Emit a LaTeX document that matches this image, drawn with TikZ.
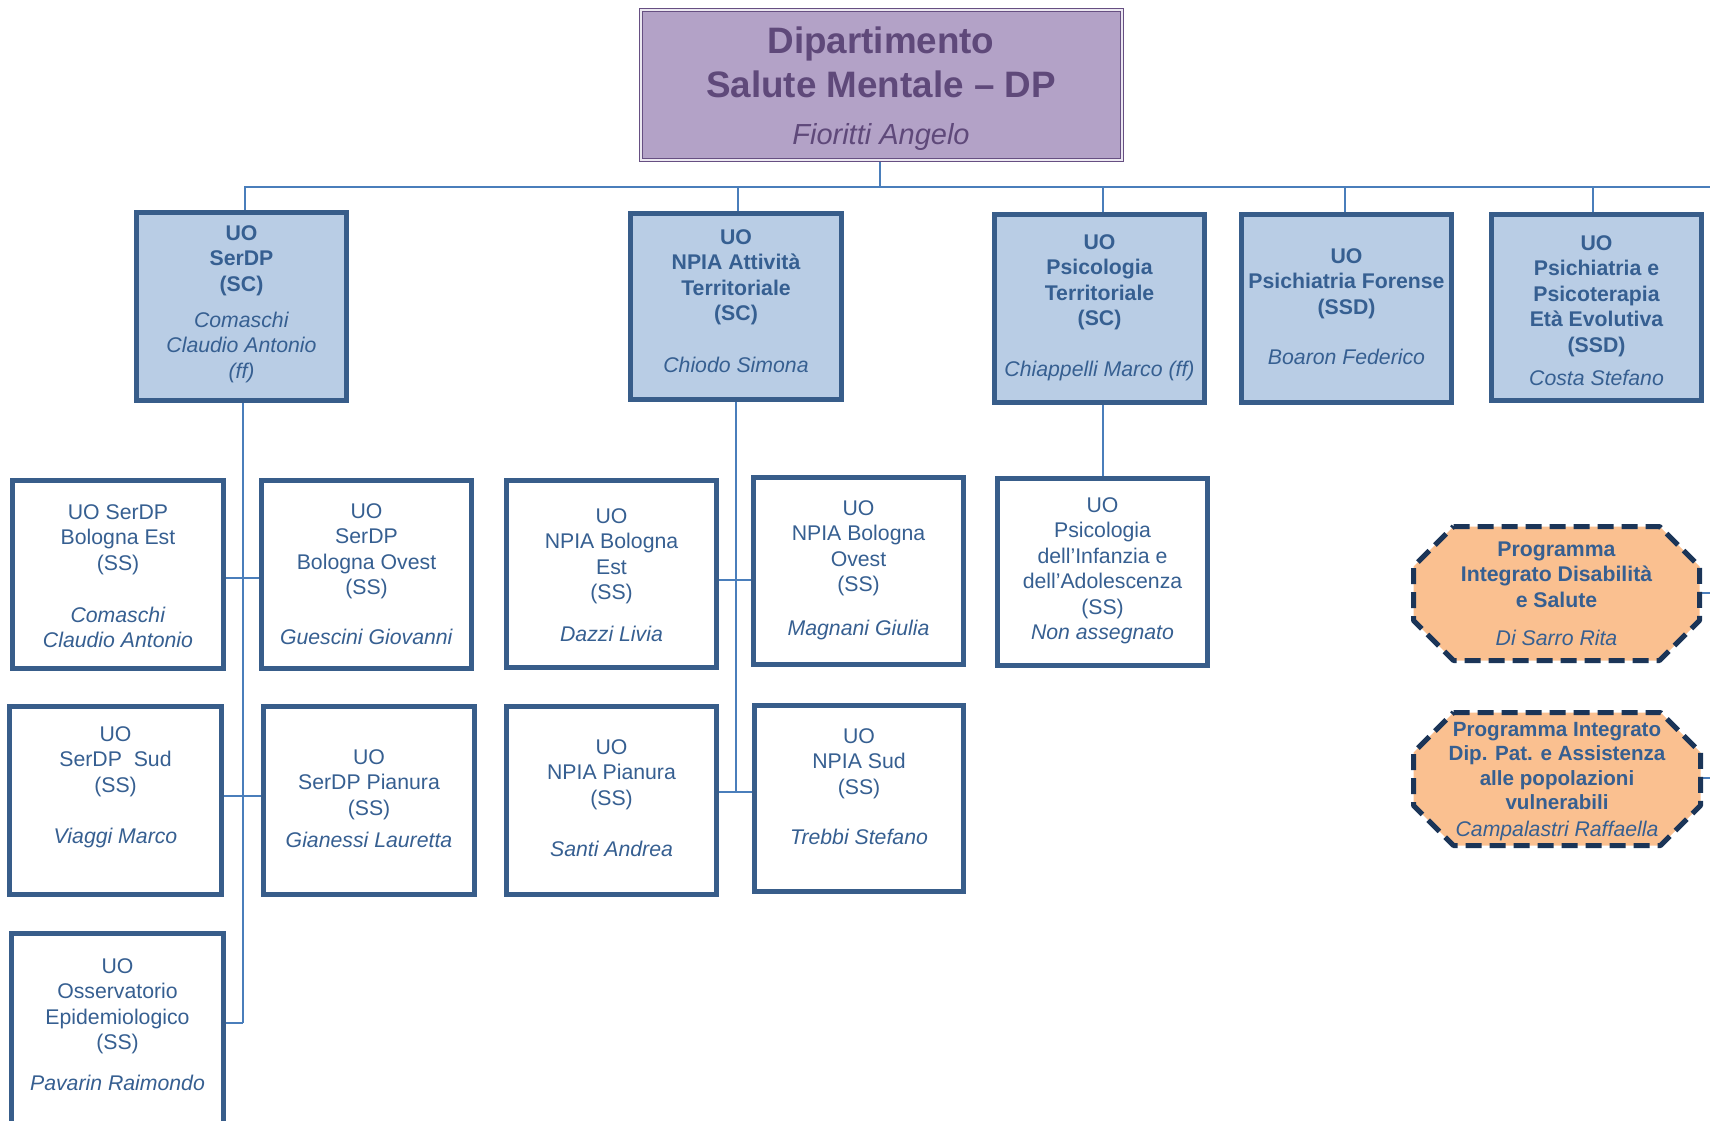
\documentclass[tikz,border=0pt]{standalone}
\usepackage{fontspec}
\setmainfont{Liberation Sans}
\usetikzlibrary{backgrounds}
\definecolor{boxborder}{HTML}{385D8A}
\definecolor{boxfill}{HTML}{B9CDE5}
\definecolor{txtblue}{HTML}{365F91}
\definecolor{connblue}{HTML}{4A7EBB}
\definecolor{octfill}{HTML}{FAC090}
\definecolor{octborder}{HTML}{1B3558}
\definecolor{deptfill}{HTML}{B3A2C7}
\definecolor{depttext}{HTML}{5F497A}
\definecolor{deptborder}{HTML}{664F82}
\newcommand{\persona}[1]{\textit{\mdseries #1}}
\newcommand{\firstline}{\rule{0pt}{20pt}}
\begin{document}
\begin{tikzpicture}[x=1pt, y=-1pt,
 scbox/.style={draw=boxborder, fill=boxfill, line width=5pt, inner sep=0pt},
 ssbox/.style={draw=boxborder, fill=white, line width=5pt, inner sep=0pt},
 frame/.style={inner sep=0pt, outer sep=0pt},
 oct/.style={draw=octborder, fill=octfill, line width=5pt, dash pattern=on 16pt off 8pt, line join=round},
 conn/.style={draw=connblue, line width=2pt},
 txt/.style={anchor=north, inner sep=0pt, outer sep=0pt, align=center, text=txtblue, font=\fontsize{21.25}{25.5}\selectfont},
 txtb/.style={txt, font=\fontsize{21.25}{25.5}\selectfont\bfseries},
 deptbox/.style={draw=deptborder, double=white!75!deptfill, double distance=1.8pt, line width=1.2pt, fill=deptfill, inner sep=0pt},
]
\useasboundingbox (0,0) rectangle (1710,1121);
\clip (0,0) rectangle (1710,1121);

% ---------- department ----------
\node[deptbox, minimum width=481pt, minimum height=150pt] (dept) at (881.5,85) {};
\node[anchor=north, inner sep=0pt, outer sep=0pt, align=center, text=depttext,
      font=\fontsize{36.8}{44}\selectfont\bfseries] (dept-t) at (881,22)
  {\rule{0pt}{32pt}Dipartimento\\Salute Mentale – DP};
\node[anchor=north, inner sep=0pt, outer sep=0pt, align=center, text=depttext,
      font=\fontsize{29}{34}\selectfont\itshape] (dept-n) at (881,120)
  {\rule{0pt}{25pt}Fioritti Angelo};

% ---------- top level (SC / SSD) ----------
\node[scbox, minimum width=210pt, minimum height=188pt] (serdp) at (241.5,306.5) {};
\node[scbox, minimum width=211pt, minimum height=186pt] (npia)  at (736,306.5) {};
\node[scbox, minimum width=210pt, minimum height=188pt] (psic)  at (1099.5,308.5) {};
\node[scbox, minimum width=210pt, minimum height=188pt] (pf)    at (1346.5,308.5) {};
\node[scbox, minimum width=210pt, minimum height=186pt] (pee)   at (1596.5,307.5) {};

\node[txtb] (serdp-t) at (241.5,220) {\firstline UO\\SerDP\\(SC)\\[10.5pt]\persona{Comaschi}\\\persona{Claudio Antonio}\\\persona{(ff)}};
\node[txtb] (npia-t) at (736,224) {\firstline UO\\NPIA Attività\\Territoriale\\(SC)\\[26.5pt]\persona{Chiodo Simona}};
\node[txtb] (psic-t) at (1099.5,229) {\firstline UO\\Psicologia\\Territoriale\\(SC)\\[25.5pt]\persona{Chiappelli Marco (ff)}};
\node[txtb] (pf-t) at (1346.5,243) {\firstline UO\\Psichiatria Forense\\(SSD)\\[24.5pt]\persona{Boaron Federico}};
\node[txtb] (pee-t) at (1596.5,230) {\firstline UO\\Psichiatria e\\Psicoterapia\\Età Evolutiva\\(SSD)\\[7.5pt]\persona{Costa Stefano}};

% ---------- SerDP children ----------
\node[ssbox, minimum width=211pt, minimum height=188pt] (best)     at (118,574.5) {};
\node[ssbox, minimum width=210pt, minimum height=188pt] (bovest)   at (366.5,574.5) {};
\node[ssbox, minimum width=212pt, minimum height=188pt] (sud)      at (115.5,800.5) {};
\node[ssbox, minimum width=211pt, minimum height=188pt] (spianura) at (369,800.5) {};
\node[ssbox, minimum width=212pt, minimum height=190pt] (oss)      at (117.5,1028.5) {};

\node[txt] (best-t) at (118,499) {\firstline UO SerDP\\Bologna Est\\(SS)\\[26.5pt]\persona{Comaschi}\\\persona{Claudio Antonio}};
\node[txt] (bovest-t) at (366.5,498) {\firstline UO\\SerDP\\Bologna Ovest\\(SS)\\[24.5pt]\persona{Guescini Giovanni}};
\node[txt] (sud-t) at (115.5,721) {\firstline UO\\SerDP\ \ Sud\\(SS)\\[25.5pt]\persona{Viaggi Marco}};
\node[txt] (spianura-t) at (369,744) {\firstline UO\\SerDP Pianura\\(SS)\\[6.5pt]\persona{Gianessi Lauretta}};
\node[txt] (oss-t) at (117.5,953) {\firstline UO\\Osservatorio\\Epidemiologico\\(SS)\\[15.5pt]\persona{Pavarin Raimondo}};

% ---------- NPIA children ----------
\node[ssbox, minimum width=210pt, minimum height=187pt] (nest)   at (611.5,574) {};
\node[ssbox, minimum width=210pt, minimum height=187pt] (novest) at (858.5,571) {};
\node[ssbox, minimum width=210pt, minimum height=188pt] (npian)  at (611.5,800.5) {};
\node[ssbox, minimum width=209pt, minimum height=186pt] (nsud)   at (859,798.5) {};

\node[txt] (nest-t) at (611.5,503) {\firstline UO\\NPIA Bologna\\Est\\(SS)\\[16.5pt]\persona{Dazzi Livia}};
\node[txt] (novest-t) at (858.5,495) {\firstline UO\\NPIA Bologna\\Ovest\\(SS)\\[18.5pt]\persona{Magnani Giulia}};
\node[txt] (npian-t) at (611.5,734) {\firstline UO\\NPIA Pianura\\(SS)\\[25.5pt]\persona{Santi Andrea}};
\node[txt] (nsud-t) at (859,723) {\firstline UO\\NPIA Sud\\(SS)\\[24.5pt]\persona{Trebbi Stefano}};

% ---------- Psicologia child ----------
\node[ssbox, minimum width=210pt, minimum height=187pt] (pinf) at (1102.5,572) {};
\node[txt] (pinf-t) at (1102.5,492) {\firstline UO\\Psicologia\\dell’Infanzia e\\dell’Adolescenza\\(SS)\\\persona{Non assegnato}};

% ---------- programmes (octagons) ----------
\node[frame, minimum width=286pt, minimum height=134pt] (prog1) at (1556.5,593.5) {};
\node[frame, minimum width=287pt, minimum height=133pt] (prog2) at (1557,779) {};
\foreach \p in {prog1,prog2}{
  \draw[oct] ([xshift=40pt]\p.north west) -- ([xshift=-40pt]\p.north east)
    -- ([yshift=-40pt]\p.north east) -- ([yshift=40pt]\p.south east)
    -- ([xshift=-40pt]\p.south east) -- ([xshift=40pt]\p.south west)
    -- ([yshift=40pt]\p.south west) -- ([yshift=-40pt]\p.north west) -- cycle;
}
\node[txtb] (prog1-t) at (1556.5,536) {\firstline Programma\\Integrato Disabilità\\e Salute\\[12.5pt]\persona{Di Sarro Rita}};
\node[txtb, font=\fontsize{20.6}{24.5}\selectfont\bfseries] (prog2-t) at (1557,716) {\firstline Programma Integrato\\Dip. Pat. e Assistenza\\alle popolazioni\\vulnerabili\\[2.5pt]\persona{\fontsize{21.2}{24.5}\selectfont Campalastri Raffaella}};

% ---------- connectors ----------
\coordinate (busR) at (1712,187);
\coordinate (jS1) at (243,578);
\coordinate (jS2) at (243,796);
\coordinate (jS3) at (243,1023);
\coordinate (jN1) at (736,580);
\coordinate (jN2) at (736,792);
\coordinate (o1r) at (1712,593);
\coordinate (o2r) at (1712,778);
\begin{scope}[on background layer]
  \draw[conn] ([xshift=3.5pt]serdp.north) |- (busR);
  \draw[conn] ([xshift=-1.5pt]dept.south) -- ([xshift=-1.5pt]dept.south |- busR);
  \draw[conn] ([xshift=2pt]npia.north) -- ([xshift=2pt]npia.north |- busR);
  \draw[conn] ([xshift=3.5pt]psic.north) -- ([xshift=3.5pt]psic.north |- busR);
  \draw[conn] ([xshift=-1.5pt]pf.north) -- ([xshift=-1.5pt]pf.north |- busR);
  \draw[conn] ([xshift=-3.5pt]pee.north) -- ([xshift=-3.5pt]pee.north |- busR);
  % SerDP
  \draw[conn] (jS3 |- serdp.south) -- (jS3);
  \draw[conn] (jS1 -| best.east) -- (jS1 -| bovest.west);
  \draw[conn] (jS2 -| sud.east) -- (jS2 -| spianura.west);
  \draw[conn] (jS3 -| oss.east) -- (jS3);
  % NPIA
  \draw[conn] (jN2 |- npia.south) -- (jN2);
  \draw[conn] (jN1 -| nest.east) -- (jN1 -| novest.west);
  \draw[conn] (jN2 -| npian.east) -- (jN2 -| nsud.west);
  % Psicologia
  \draw[conn] ([xshift=3.5pt]psic.south) -- ([xshift=3.5pt]psic.south |- pinf.north);
  % programmes (lines leaving the picture)
  \draw[conn] (prog1.east |- o1r) -- (o1r);
  \draw[conn] (prog2.east |- o2r) -- (o2r);
\end{scope}
\end{tikzpicture}
\end{document}
